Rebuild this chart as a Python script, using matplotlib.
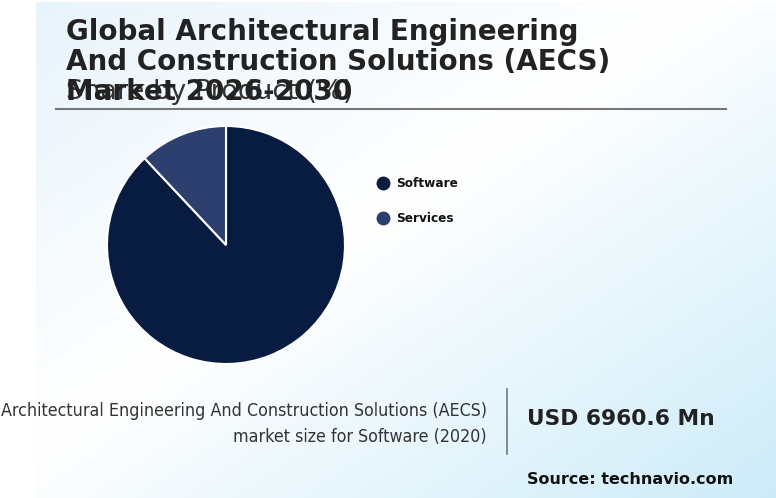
import numpy as np
import matplotlib
matplotlib.use("Agg")
import matplotlib.pyplot as plt
from matplotlib.colors import LinearSegmentedColormap

# data
segments = ["Software", "Services"]
shares = [88.0, 12.0]
colors = ["#071c40", "#2c3f6f"]
title_lines = ["Global Architectural Engineering",
               "And Construction Solutions (AECS)",
               "Market 2026-2030"]
subtitle = "Share by Product (%)"
kpi_label = "Architectural Engineering And Construction Solutions (AECS)\nmarket size for Software (2020)"
kpi_value = "USD 6960.6 Mn"
source = "Source: technavio.com"

W, H = 776, 498
fig = plt.figure(figsize=(W / 100, H / 100), dpi=100)
fig.patch.set_facecolor("white")

# background panel with diagonal gradient
bg = fig.add_axes([36 / W, 0, 1 - 36 / W, 496 / H])
bg.set_axis_off()
yy, xx = np.mgrid[0:1:200j, 0:1:300j]
t = (xx + yy) / 2
cmap = LinearSegmentedColormap.from_list(
    "bg", [(0, "#e8f4fb"), (0.45, "#ffffff"), (1, "#cdecf9")])
bg.imshow(t, cmap=cmap, aspect="auto", extent=[0, 1, 0, 1], origin="upper")
bg.set_xlim(0, 1)
bg.set_ylim(0, 1)

# pie
ax = fig.add_axes([(226 - 120) / W, 1 - (245 + 120) / H, 240 / W, 240 / H])
ax.pie(shares, colors=colors, startangle=90, counterclock=False,
       radius=119 / 120,
       wedgeprops=dict(edgecolor="white", linewidth=1.5))
ax.set_xlim(-1, 1)
ax.set_ylim(-1, 1)
ax.set_aspect("equal")

# texts
fig.text(66 / W, 1 - 99 / H, subtitle, fontsize=19.5, color="#333333",
         va="baseline", ha="left")
for i, line in enumerate(title_lines):
    fig.text(66 / W, 1 - (39.5 + 30.3 * i) / H, line, fontsize=20,
             fontweight="bold", color="#222222", va="baseline", ha="left")
fig.add_artist(plt.Line2D([56 / W, 726 / W], [1 - 109 / H, 1 - 109 / H],
                          color="#777777", lw=1.5))

# legend
for i, (seg, c) in enumerate(zip(segments, colors)):
    y = 1 - (183 + 35 * i) / H
    fig.add_artist(plt.Line2D([383 / W], [y], marker="o", markersize=9,
                              color=c, lw=0))
    fig.text(396 / W, y, seg, fontsize=8.7, fontweight="bold", color="#111111",
             va="center", ha="left")

# bottom kpi
fig.text(487 / W, 1 - 424 / H, kpi_label, fontsize=12.8, color="#333333",
         ha="right", va="center", linespacing=1.6,
         family="DejaVu Sans", fontstretch="condensed")
fig.add_artist(plt.Line2D([507 / W, 507 / W], [1 - 389 / H, 1 - 454 / H],
                          color="#777777", lw=1.2))
fig.text(527 / W, 1 - 419 / H, kpi_value, fontsize=15.7, fontweight="bold",
         color="#222222", ha="left", va="center")
fig.text(527 / W, 1 - 479 / H, source, fontsize=11.5, fontweight="bold",
         color="#111111", ha="left", va="center")

fig.savefig("out.png", dpi=100)
